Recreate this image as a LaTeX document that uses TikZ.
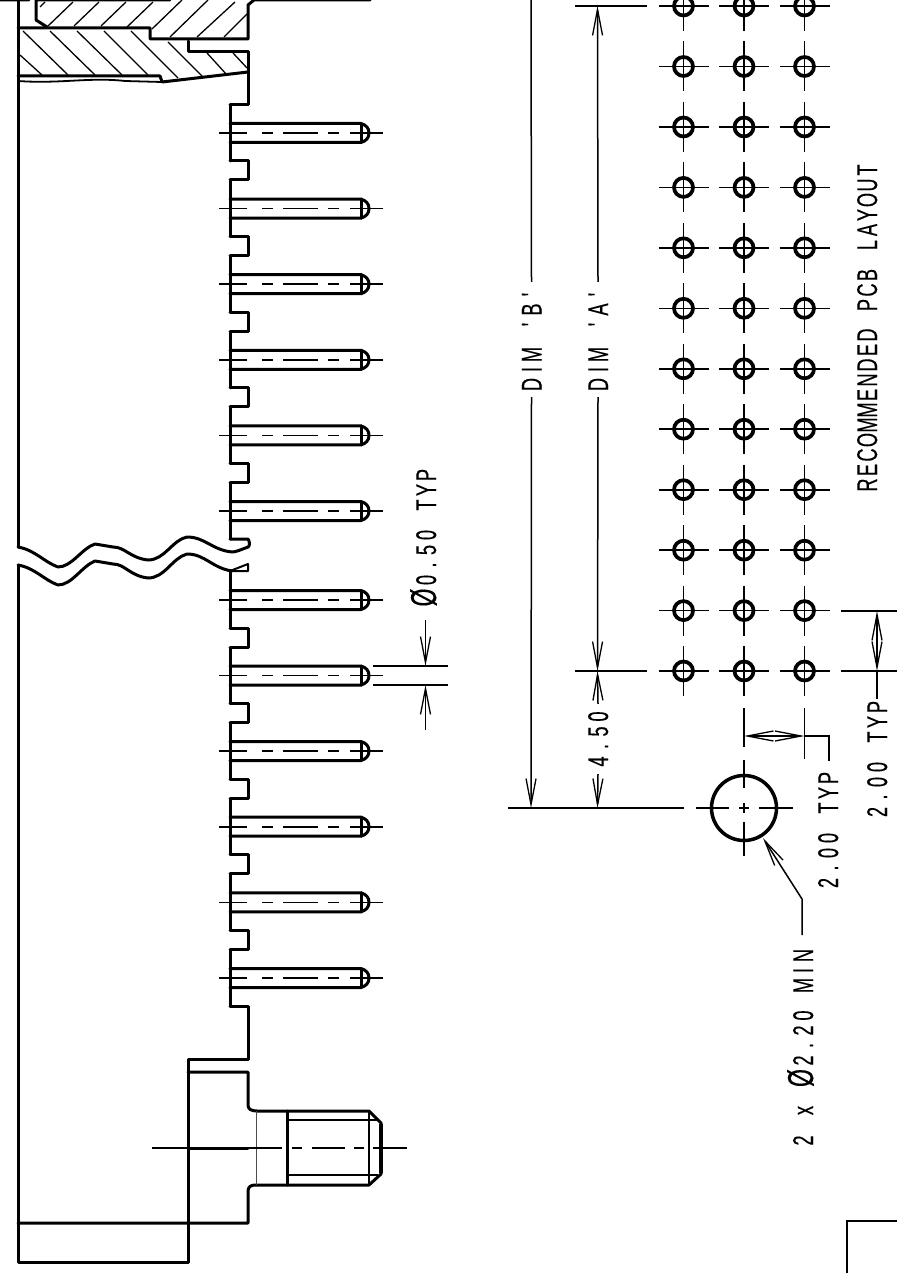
\documentclass[tikz,border=0pt]{standalone}
\usepackage{fontspec}
\usetikzlibrary{arrows.meta}
\newfontfamily\cadfont[FakeStretch=0.64,FakeBold=0.2]{Liberation Sans}
% one fixed width box per letter
\def\cadspell#1{\cadstep#1\relax}
\def\cadstep#1{\ifx#1\relax\else\makebox[15pt]{#1}\expandafter\cadstep\fi}
\def\cadO{\makebox[20pt]{\fontsize{36}{36}\selectfont Ø}}
\tikzset{
  wall/.style={line width=3pt,line join=round,line cap=round},
  thinline/.style={line width=1.6pt},
  hair/.style={line width=0.7pt,black!70},
  hatch/.style={line width=1.3pt},
  dimline/.style={line width=1.5pt,>={Straight Barb[length=26pt,width=10pt,line width=1.3pt]}},
  holeshape/.style={circle,draw,line width=3.7pt,minimum size=19pt,inner sep=0pt},
  label/.style={rotate=90,inner sep=5pt,text height=20pt,text depth=0pt,font=\cadfont\fontsize{28.5}{28.5}\selectfont},
}
\begin{document}
\begin{tikzpicture}[x=1pt,y=-1pt]
  \useasboundingbox (0,0) rectangle (897,1273);
  % housing
  \draw[wall] (18,0) -- (18,547);
  \draw[wall] (18,565) -- (18,1262) -- (188,1262) -- (188,1059) -- (248,1059) -- (248,1006) -- (230,1006);
  \draw[wall] (18,1223) -- (248,1223) -- (248,1191) .. controls (248,1187) and (251,1185) .. (255,1185)
    -- (369,1185) -- (381,1174) -- (381,1123) -- (369,1111) -- (257,1111)
    .. controls (251,1111) and (248,1109) .. (248,1105) -- (248,1072) -- (188,1072);
  % threaded stud
  \draw[wall] (287,1111) -- (287,1185);
  \draw[thinline] (369,1111) -- (369,1185);
  \draw[thinline] (287,1120) -- (378,1120) (287,1175) -- (378,1175);
  \draw[hair] (256,1111) -- (256,1185);
  \draw[line width=4.5pt] (381,1124) -- (381,1173);
  \draw[wall] (188,1148) -- (248,1148);
  \draw[thinline] (152,1148) -- (282,1148) (292,1148) -- (302,1148) (312,1148) -- (345,1148)
    (354,1148) -- (364,1148) (373,1148) -- (407,1148);
  % section at the top
  \draw[wall] (0,0) -- (29,0) (36,0) -- (170,0) (36,0) -- (36,20) -- (47,27);
  \draw[wall] (18,28) -- (150,28) -- (150,39) -- (248,39) -- (248,5) -- (254,0) -- (370,0);
  \draw[wall] (188,41) -- (188,52) -- (248,52) -- (248,105) -- (230,105);
  \draw[wall] (18,76) -- (160,76) -- (162,82) -- (248,72);
  \draw[line width=1.8pt] (18,81) .. controls (60,84) and (90,77) .. (125,81) -- (162,82);
  \draw[hatch] (40,7) -- (45,2) (48,26) -- (73,2) (74,26) -- (99,2) (101,26) -- (126,2)
    (127,27) -- (153,2) (152,29) -- (182,0) (170,37) -- (208,0) (197,37) -- (235,2) (224,37) -- (247,14);
  \draw[hatch] (23,31) -- (68,75) (50,31) -- (95,75) (77,31) -- (122,75) (104,31) -- (148,75)
    (131,31) -- (178,78) (168,42) -- (203,77) (207,53) -- (227,75) (233,53) -- (247,68) (20,55) -- (42,75);
  % break lines
  \draw[wall] (230,539) -- (248,539) .. controls (250,542) and (250,546) .. (248,547)
    .. controls (240,550) and (236,552) .. (232,552) .. controls (212,550) and (205,537) .. (187,537)
    .. controls (172,540) and (165,560) .. (148,560) .. controls (130,558) and (125,547) .. (113,547)
    -- (95,544) .. controls (82,548) and (72,567) .. (58,567) .. controls (44,562) and (35,550) .. (18,547);
  \draw[wall] (18,565) .. controls (35,568) and (44,580) .. (58,585) .. controls (72,585) and (82,566) .. (95,561)
    -- (113,564) .. controls (125,564) and (130,576) .. (148,578) .. controls (165,578) and (172,558) .. (187,554)
    .. controls (205,554) and (212,568) .. (232,571);
  \draw[line width=2pt,line join=round] (230,571) -- (248,564) -- (248,571) -- cycle;
  \draw[wall] (230,571) -- (230,572);
  % pins
  \foreach \y in {133,208.6,284.2,359.8,435.4,511,600,675.5,751,826.7,902.3,978} {
    \draw[wall] (230,\y-28) -- (230,\y+28);
    \draw[wall] (230,\y-9.5) -- (361,\y-9.5) .. controls (366,\y-8) and (369,\y-5) .. (369,\y)
      .. controls (369,\y+5) and (366,\y+8) .. (361,\y+9.5) -- (230,\y+9.5);
    \draw[wall] (361,\y-9.5) -- (361,\y+9.5);
    \draw[thinline] (219,\y) -- (247,\y) (262,\y) -- (273,\y) (283,\y) -- (318,\y)
      (328,\y) -- (339,\y) (350,\y) -- (383,\y);
  }
  % comb
  \foreach \y in {161,236.6,312.2,387.8,463.4,628,703.5,779,854.7,930.3} {
    \draw[wall] (230,\y) -- (248,\y) -- (248,\y+19) -- (230,\y+19);
  }
  % holes
  \foreach \y in {6,66.5,127,187.4,247.8,308.3,368.8,429.2,489.7,550.2,610.6,671} {
    \foreach \x in {683.5,744,804.5} {
      \draw (\x,\y) node[holeshape] (hole) {};
      \draw[thinline] (\x-25,\y) -- (\x+25,\y) (\x,\y-25) -- (\x,\y+25);
    }
  }
  \draw (744,808) node[circle,draw,line width=3.5pt,minimum size=65pt,inner sep=0pt] (mount) {};
  \draw[thinline] (696,808) -- (729,808) (739,808) -- (749,808) (759,808) -- (793,808)
    (744,760) -- (744,788) (744,803) -- (744,813) (744,822) -- (744,856);
  % dimensions
  \node[label] (dimB) at (531.5,339.5) {\cadspell{DIM~'B'}};
  \node[label] (dimA) at (598,339.5) {\cadspell{DIM~'A'}};
  \node[label] (fourfifty) at (598,739) {\cadspell{4.50}};
  \node[label] (pitchX) at (828,830.5) {\cadspell{2.00~TYP}};
  \node[label] (pitchY) at (877,759.5) {\cadspell{2.00~TYP}};
  \node[label] (mountdia) at (803,1048) {\cadspell{2~x~}\cadO\cadspell{2.20~MIN}};
  \node[label] (pindia) at (426,537.5) {\cadO\cadspell{0.50~TYP}};
  \node[label] (title) at (867,327.5) {\cadspell{RECOMMENDED~PCB~LAYOUT}};
  \coordinate (tipB) at (531,808);
  \coordinate (tipAtop) at (597.5,6);
  \coordinate (tipAbot) at (597.5,671);
  \begin{scope}[dimline]
    \draw (508,808) -- (684,808);
    \draw (575,6) -- (647,6);
    \draw (575,671) -- (647,671);
    \draw (531,0) -- (dimB.east);
    \draw[->] (dimB.west) -- (tipB);
    \draw[->] (dimA.east) -- (tipAtop);
    \draw[->] (dimA.west) -- (tipAbot);
    \draw[->] (fourfifty.east) -- (tipAbot);
    \draw[->] (fourfifty.west) -- (597.5,808);
    \draw (841,611) -- (897,611);
    \draw (841,671) -- (897,671);
    \draw[<->] (877,611) -- (877,671);
    \draw[shorten >=-5pt] (877,671) -- (pitchY.east);
    \draw (744,708) -- (744,747);
    \draw (804.5,708) -- (804.5,759);
    \draw[<->] (744,736) -- (804.5,736);
    \draw (804.5,736) -- (829,736) -- (829,761);
    \draw[->] (802,935) -- (802,899) -- (763,838);
    \draw (373,666) -- (448,666);
    \draw (373,685) -- (448,685);
    \draw[->] (425.5,620) -- (425.5,666);
    \draw[->] (425.5,730) -- (425.5,685);
    \draw (847,1273) -- (847,1221) -- (897,1221);
  \end{scope}
\end{tikzpicture}
\end{document}
